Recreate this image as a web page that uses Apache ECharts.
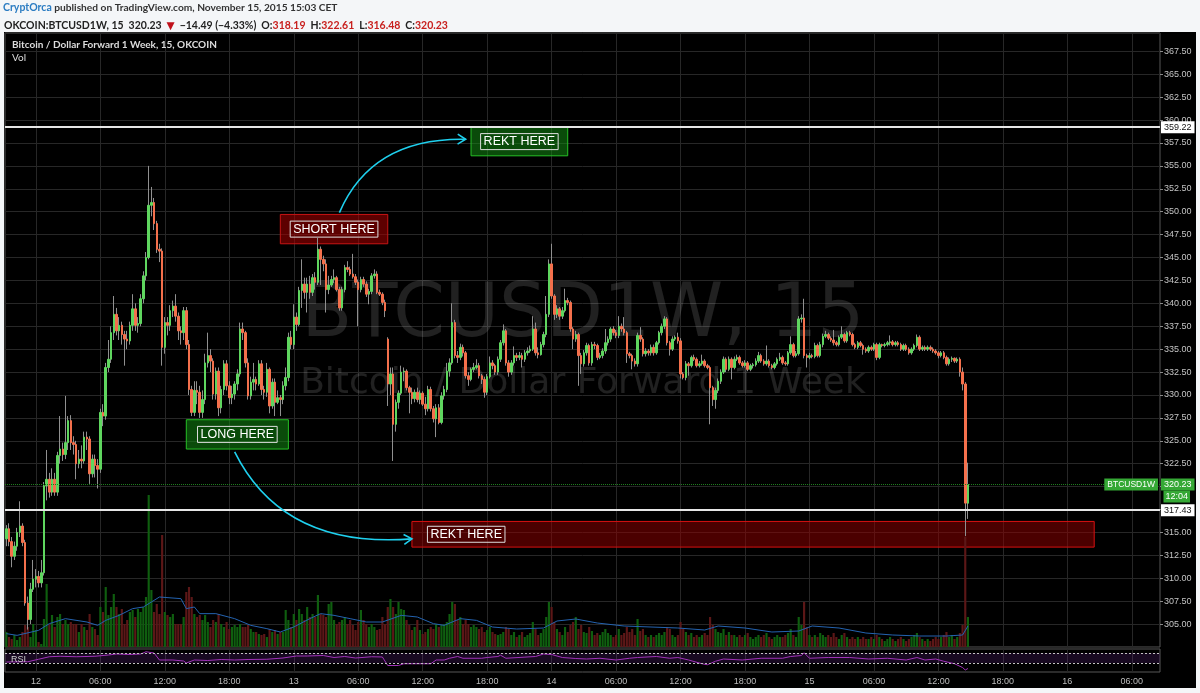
<!DOCTYPE html>
<html>
<head>
<meta charset="utf-8">
<title>BTCUSD1W, 15</title>
<script src="https://cdn.jsdelivr.net/npm/echarts@6/dist/echarts.min.js"></script>
<style>
html, body { margin: 0; padding: 0; background: #f4f6f8; }
#chart { width: 1200px; height: 693px; }
</style>
</head>
<body>
<div id="chart"></div>
<script>
// OKCOIN:BTCUSD1W 15 min candles, first candle 11 Nov 2015 21:15
const startTime = Date.UTC(2015, 10, 11, 21, 15);
const slotCount = 430;

const opens = [
  314.3,315.4,314.0,312.4,313.5,315.0,315.7,313.9,307.3,305.5,
  308.8,309.9,310.2,309.5,310.6,320.1,320.8,319.4,320.8,319.4,
  323.4,324.1,323.5,324.8,327.2,324.8,324.6,322.5,323.0,322.8,
  325.4,325.2,321.4,323.0,322.3,321.9,328.1,327.7,333.0,333.9,
  336.8,338.8,337.0,337.6,336.6,336.1,335.9,337.6,339.4,337.6,
  337.8,340.5,343.0,345.0,350.7,351.0,348.7,345.9,345.7,335.2,
  337.9,337.6,339.2,339.7,338.6,337.0,336.8,339.2,335.5,330.6,
  328.1,330.5,330.3,328.1,329.5,333.5,334.3,333.7,330.1,332.6,
  328.6,330.6,333.4,331.0,329.7,330.1,331.2,332.3,337.2,336.8,
  333.5,329.9,331.4,331.7,331.2,333.4,330.6,330.3,332.8,328.8,
  331.4,329.2,329.7,329.5,331.0,331.9,336.3,335.5,338.5,337.7,
  341.4,342.1,341.2,342.1,341.2,342.8,342.3,345.9,344.8,344.3,
  341.5,342.0,342.6,342.8,341.5,339.5,341.5,343.9,343.7,343.2,
  342.9,342.3,341.5,342.6,342.1,341.0,341.3,343.0,343.2,341.2,
  341.0,340.1,336.1,331.2,332.3,326.8,329.2,330.2,332.5,332.6,
  330.8,330.3,329.6,330.3,329.5,330.2,329.0,328.5,330.6,328.5,
  327.4,328.6,327.0,329.9,330.6,332.6,333.5,337.9,334.3,334.1,
  335.2,334.6,332.1,331.7,332.8,333.0,333.2,332.1,331.7,330.3,
  332.0,333.5,333.2,332.5,333.9,335.7,337.0,333.5,332.5,333.5,
  334.3,334.1,334.3,333.9,334.6,334.8,335.0,337.2,334.6,334.4,
  335.5,336.6,338.8,344.3,340.8,338.8,339.4,338.6,339.2,340.3,
  340.1,337.2,336.1,336.6,334.3,333.4,334.6,335.4,333.5,335.5,
  335.4,334.1,334.3,334.8,335.7,336.1,337.2,336.8,336.5,337.5,
  337.2,336.8,334.5,334.3,333.7,333.4,336.5,336.1,334.5,334.8,
  334.6,335.2,334.6,335.7,336.8,337.5,338.3,335.7,335.0,336.1,
  336.3,335.9,332.3,331.9,333.4,333.2,334.1,333.9,333.2,333.4,
  333.7,333.2,333.0,330.8,329.5,330.5,331.5,332.5,333.9,332.8,
  333.9,333.0,333.9,334.1,333.5,333.2,333.5,332.8,333.2,333.3,
  333.7,334.3,333.7,333.4,333.7,333.2,333.0,333.4,333.9,334.1,
  333.5,333.4,334.6,335.5,334.3,334.5,338.3,338.4,334.3,334.1,
  334.3,334.2,335.4,334.3,335.5,336.4,336.6,336.2,336.0,335.7,
  335.5,336.3,336.6,335.9,336.8,336.6,335.5,335.2,335.7,335.4,
  335.0,334.8,335.2,335.0,335.5,334.1,335.5,335.4,335.5,335.7,
  335.8,335.5,335.7,335.5,335.0,335.4,335.0,334.6,335.0,335.4,
  336.3,335.0,335.2,335.0,335.2,335.0,334.8,334.6,334.3,334.6,
  334.1,333.4,333.9,334.0,333.7,333.9,332.5,331.2,318.19
];
const highs = [
  315.8,316.0,314.5,314.0,315.5,318.4,316.0,314.2,308.0,309.5,
  312.0,311.0,310.8,312.0,320.5,324.0,321.5,322.0,321.5,323.8,
  327.7,324.8,329.9,327.7,327.8,325.5,325.0,324.0,324.5,326.0,
  326.0,325.5,323.5,323.5,323.0,328.5,329.0,333.5,336.0,337.5,
  340.8,339.5,338.5,338.0,337.0,337.0,338.0,341.0,340.0,338.5,
  341.0,343.5,345.6,355.0,352.7,351.5,349.0,346.5,346.0,338.5,
  338.5,339.8,340.3,341.0,339.0,337.5,339.6,339.6,336.0,331.0,
  331.5,331.5,331.0,330.5,334.5,336.8,335.0,334.0,333.0,333.0,
  331.0,333.8,333.8,331.5,331.0,331.5,332.8,337.9,337.9,337.0,
  334.0,332.0,333.5,332.0,333.8,333.8,331.0,333.5,333.0,331.8,
  331.8,330.5,330.0,331.5,333.0,336.8,337.0,339.9,339.0,341.8,
  344.8,342.8,342.8,343.0,343.2,343.4,347.2,346.2,345.2,344.8,
  343.0,343.0,343.7,343.0,341.8,341.8,344.2,344.6,344.0,345.4,
  343.2,342.6,342.9,342.9,342.4,341.6,343.3,343.7,343.5,341.5,
  341.2,340.4,336.3,333.0,333.0,329.5,330.5,333.2,333.0,332.8,
  331.0,330.8,330.6,330.8,330.5,330.4,329.8,331.0,330.9,328.8,
  329.0,329.0,330.3,331.0,333.5,334.0,340.0,338.2,334.8,335.6,
  335.5,334.8,332.5,333.0,333.5,333.9,333.5,332.3,332.0,332.3,
  334.2,333.8,333.4,334.2,336.0,337.7,337.2,333.8,333.8,335.3,
  334.6,334.7,334.6,334.9,335.2,335.4,338.6,337.9,335.2,335.8,
  336.9,340.8,344.8,346.5,341.0,339.8,339.6,339.6,341.6,340.6,
  340.3,337.4,337.0,336.8,334.6,334.9,335.7,335.6,335.8,335.8,
  335.6,334.6,335.1,337.2,336.4,337.4,337.5,337.1,338.6,337.8,
  338.5,337.0,334.7,334.5,334.0,336.8,337.4,336.3,335.1,335.0,
  335.5,335.5,335.9,337.0,337.8,338.6,338.5,335.9,336.4,336.5,
  336.8,336.2,332.5,333.7,333.6,334.3,334.4,334.1,333.7,334.4,
  333.9,333.4,333.2,331.0,330.8,331.8,332.8,334.2,334.1,334.2,
  334.1,334.2,334.4,334.3,333.7,333.8,333.7,333.4,333.5,334.0,
  334.7,334.5,333.9,335.4,333.9,333.4,333.6,334.1,334.6,334.3,
  333.7,334.8,336.4,335.7,334.8,338.6,338.8,340.5,334.5,334.6,
  334.5,335.7,335.6,335.8,336.7,337.0,336.8,336.4,337.1,335.9,
  336.5,337.5,336.8,337.0,337.0,336.8,335.7,335.9,335.9,335.6,
  335.2,335.4,335.4,335.7,335.7,335.7,335.6,335.7,335.9,336.5,
  336.0,335.9,335.9,335.7,335.6,335.6,335.2,335.2,335.6,336.6,
  336.5,335.4,335.4,335.4,335.4,335.2,335.0,334.8,334.8,334.8,
  334.3,334.1,334.2,334.1,334.1,334.1,333.0,331.4,322.61
];
const lows = [
  313.5,313.5,311.2,312.0,313.0,314.5,313.5,307.0,304.4,305.0,
  308.5,309.0,309.0,309.0,310.3,318.5,318.8,319.0,319.0,319.0,
  322.5,322.8,323.0,324.0,324.0,323.5,320.8,322.0,322.0,322.5,
  324.0,320.3,321.0,321.0,319.8,321.5,326.6,327.3,332.5,333.5,
  336.0,336.5,336.0,335.5,333.2,335.0,335.5,337.0,337.0,336.8,
  337.5,340.0,342.5,344.8,349.5,348.0,345.5,344.5,333.2,334.5,
  336.5,337.0,338.5,338.0,336.0,335.5,336.0,335.0,330.0,327.7,
  327.7,329.0,327.5,327.5,329.0,333.0,332.5,329.5,329.5,327.7,
  328.0,330.0,330.5,329.0,329.0,329.5,330.5,332.0,336.0,333.0,
  329.5,329.5,330.5,330.5,331.0,330.0,329.5,329.8,328.0,328.5,
  327.7,329.0,327.7,329.0,330.5,331.5,335.0,335.0,337.0,337.5,
  339.5,340.5,339.0,340.5,340.8,341.5,342.0,342.0,343.5,339.0,
  341.0,341.8,342.2,341.3,339.2,339.2,341.2,343.4,343.0,342.7,
  342.0,337.5,341.2,341.8,340.7,339.9,341.0,342.7,341.0,340.8,
  339.8,338.5,328.8,330.0,322.8,326.0,328.5,330.0,331.5,330.5,
  328.0,329.0,329.2,329.2,329.0,328.8,327.8,328.2,328.2,327.0,
  325.4,326.8,326.8,329.5,330.3,332.0,333.3,334.0,333.5,333.8,
  334.2,331.8,331.0,331.5,332.5,332.8,331.8,331.2,329.7,330.0,
  331.8,332.8,332.2,332.2,333.6,335.4,333.2,332.0,332.2,333.2,
  333.7,333.8,333.0,333.6,334.3,334.6,334.8,334.3,334.0,334.3,
  335.2,336.3,338.5,340.5,338.2,338.4,338.2,338.3,339.0,339.8,
  336.9,335.0,335.8,331.0,332.3,333.1,334.3,333.2,333.2,335.0,
  333.8,333.9,334.0,334.5,335.4,335.8,336.5,336.2,336.2,336.9,
  336.5,333.5,334.0,332.8,333.1,333.1,335.8,334.2,334.2,334.3,
  334.3,334.3,334.4,335.5,336.5,337.2,335.4,334.3,334.8,335.9,
  335.6,331.8,331.7,331.6,332.1,333.0,333.7,333.0,333.0,333.2,
  333.0,332.8,326.8,328.8,328.5,330.2,331.2,332.3,332.5,332.6,
  331.7,332.8,333.7,333.3,333.0,333.0,332.6,332.6,332.9,333.1,
  333.5,333.5,333.2,333.2,333.0,332.8,332.8,333.2,333.7,333.3,
  333.2,333.2,334.4,334.1,334.1,334.3,337.9,334.0,333.0,333.9,
  334.0,334.0,334.1,334.1,335.2,336.2,336.0,335.8,335.4,335.3,
  335.3,336.1,335.7,335.7,336.4,335.3,335.0,335.0,335.2,334.4,
  334.6,334.6,334.8,334.8,333.8,333.9,335.2,335.2,335.3,335.4,
  335.3,335.3,335.3,334.8,334.8,334.8,334.4,334.4,334.8,335.2,
  334.8,334.8,334.8,334.8,334.8,334.6,334.4,334.0,334.1,333.9,
  333.2,333.2,333.6,333.5,333.5,332.0,330.5,314.6,316.48
];
const closes = [
  315.4,314.0,312.4,313.5,315.0,315.7,313.9,307.3,305.5,308.8,
  309.9,310.2,309.5,310.6,320.1,320.8,319.4,320.8,319.4,323.4,
  324.1,323.5,324.8,327.2,324.8,324.6,322.5,323.0,322.8,325.4,
  325.2,321.4,323.0,322.3,321.9,328.1,327.7,333.0,333.9,336.8,
  338.8,337.0,337.6,336.6,336.1,335.9,337.6,339.4,337.6,337.8,
  340.5,343.0,345.0,350.7,351.0,348.7,345.9,345.7,335.2,337.9,
  337.6,339.2,339.7,338.6,337.0,336.8,339.2,335.5,330.6,328.1,
  330.5,330.3,328.1,329.5,333.5,334.3,333.7,330.1,332.6,328.6,
  330.6,333.4,331.0,329.7,330.1,331.2,332.3,337.2,336.8,333.5,
  329.9,331.4,331.7,331.2,333.4,330.6,330.3,332.8,328.8,331.4,
  329.2,329.7,329.5,331.0,331.9,336.3,335.5,338.5,337.7,341.4,
  342.1,341.2,342.1,341.2,342.8,342.3,345.9,344.8,344.3,341.5,
  342.0,342.6,342.8,341.5,339.5,341.5,343.9,343.7,343.2,342.9,
  342.3,341.5,342.6,342.1,341.0,341.3,343.0,343.2,341.2,341.0,
  340.1,339.2,331.2,332.3,326.8,329.2,330.2,332.5,332.6,330.8,
  330.3,329.6,330.3,329.5,330.2,329.0,328.5,330.6,328.5,327.4,
  328.6,327.0,329.9,330.6,332.6,333.5,337.9,334.3,334.1,335.2,
  334.6,332.1,331.7,332.8,333.0,333.2,332.1,331.7,330.3,332.0,
  333.5,333.2,332.5,333.9,335.7,337.0,333.5,332.5,333.5,334.3,
  334.1,334.3,333.9,334.6,334.8,335.0,337.2,334.6,334.4,335.5,
  336.6,338.8,344.3,340.8,338.8,339.4,338.6,339.2,340.3,340.1,
  337.2,336.1,336.6,334.3,333.4,334.6,335.4,333.5,335.5,335.4,
  334.1,334.3,334.8,335.7,336.1,337.2,336.8,336.5,337.5,337.2,
  336.8,334.5,334.3,333.7,333.4,336.5,336.1,334.5,334.8,334.6,
  335.2,334.6,335.7,336.8,337.5,338.3,335.7,335.0,336.1,336.3,
  335.9,332.3,331.9,333.4,333.2,334.1,333.9,333.2,333.4,333.7,
  333.2,333.0,330.8,329.5,330.5,331.5,332.5,333.9,332.8,333.9,
  333.0,333.9,334.1,333.5,333.2,333.5,332.8,333.2,333.3,333.7,
  334.3,333.7,333.4,333.7,333.2,333.0,333.4,333.9,334.1,333.5,
  333.4,334.6,335.5,334.3,334.5,338.3,338.4,334.3,334.1,334.3,
  334.2,335.4,334.3,335.5,336.4,336.6,336.2,336.0,335.7,335.5,
  336.3,336.6,335.9,336.8,336.6,335.5,335.2,335.7,335.4,335.0,
  334.8,335.2,335.0,335.5,334.1,335.5,335.4,335.5,335.7,335.8,
  335.5,335.7,335.5,335.0,335.4,335.0,334.6,335.0,335.4,336.3,
  335.0,335.2,335.0,335.2,335.0,334.8,334.6,334.3,334.6,334.1,
  333.4,333.9,334.0,333.7,333.9,332.5,331.2,318.2,320.23
];
const volumes = [
  300,200,160,240,140,200,300,440,400,200,
  460,340,100,60,560,1260,460,640,400,600,
  660,460,540,460,500,460,460,300,460,400,
  340,660,400,360,240,800,700,1200,640,800,
  1060,800,660,760,460,540,700,740,600,760,
  700,800,1000,3040,1140,700,860,660,2240,700,
  640,600,660,460,460,460,600,1100,1200,1000,
  660,600,640,540,640,500,400,540,500,660,
  460,400,500,360,400,440,400,460,400,400,
  440,360,300,300,260,240,260,200,360,300,
  340,260,300,300,740,540,400,660,540,760,
  660,540,800,600,660,600,1040,660,640,600,
  860,900,540,460,500,540,600,460,540,440,
  340,500,740,540,460,400,460,400,340,360,
  600,460,800,960,800,660,900,760,740,540,
  440,340,400,540,340,260,300,360,400,360,
  460,400,440,460,500,660,900,860,540,600,
  460,540,460,400,440,400,360,400,300,340,
  400,300,260,240,260,300,400,360,240,300,
  200,240,300,200,240,280,500,360,240,280,
  360,600,900,800,500,360,300,240,400,300,
  440,500,600,360,440,300,280,400,320,240,
  280,240,300,360,280,240,200,240,360,240,
  280,400,300,360,240,560,320,360,240,200,
  240,200,240,280,240,300,400,360,240,200,
  240,500,360,300,240,280,200,240,200,240,
  280,240,600,440,360,300,280,360,240,300,
  240,240,200,240,200,240,280,200,160,200,
  240,200,240,280,200,160,200,240,200,200,
  240,280,360,240,200,600,440,900,400,240,
  200,240,200,280,240,200,240,200,280,200,
  160,240,280,200,160,200,160,200,160,200,
  160,160,200,160,240,200,160,120,160,200,
  160,120,160,200,160,120,160,200,240,280,
  200,160,120,160,120,160,200,160,200,240,
  300,200,240,160,200,280,440,2200,600
];
// volume moving average, read at a few candles
const volMaIdx = [0,4,12,16,22,30,34,37,42,47,51,54,57,65,67,70,72,78,85,91,97,102,107,113,117,122,128,134,140,147,153,159,163,169,175,181,190,200,205,212,220,230,240,250,260,265,275,285,295,300,310,320,330,340,350,356,358];
const volMaVal = [267,233,333,467,567,500,433,533,633,767,800,900,1000,967,767,800,667,667,567,433,367,300,400,567,667,633,567,500,500,633,600,467,433,567,533,400,360,380,520,560,480,420,400,380,340,420,380,300,320,420,380,280,240,220,220,240,420];
// RSI, read at a few candles
const rsiIdx = [0,8,12,16,20,26,33,38,41,46,50,52,55,57,62,66,67,70,75,80,85,90,97,103,108,112,118,122,126,130,136,140,142,146,148,158,160,163,165,168,170,177,179,183,184,186,197,200,203,207,212,216,221,227,232,235,242,247,250,254,259,261,264,267,274,281,289,292,296,297,299,306,314,321,328,335,339,342,346,349,353,356,357,358];
const rsiVal = [34,35,45,55,57,55,57,62,66,64,66,75,70,42,42,38,30,42,40,44,42,44,45,50,58,58,60,52,56,50,55,54,20,20,27,27,42,42,49,56,49,49,52,56,61,49,56,66,64,52,48,46,49,42,49,52,56,49,52,42,27,23,37,46,42,49,49,56,60,71,49,52,52,46,49,42,52,42,46,37,27,12,2,8];

const rektLevel = 359.22;
const stopLevel = 317.43;
const lastPrice = 320.23;

// drawings: [from candle, top price] -> [to candle, bottom price]
const boxes = [
  { text: 'SHORT HERE', from: 102, top: 349.7, to: 142, bottom: 346.5, fill: 'rgba(170,0,0,0.55)', edge: '#c81414', pos: 'inside' },
  { text: 'LONG HERE', from: 67, top: 327.3, to: 105, bottom: 324.1, fill: 'rgba(20,150,20,0.5)', edge: '#26c026', pos: 'inside' },
  { text: 'REKT HERE', from: 173, top: 359.2, to: 209, bottom: 356.1, fill: 'rgba(20,150,20,0.5)', edge: '#26c026', pos: 'inside' },
  { text: 'REKT HERE', from: 151, top: 316.2, to: 405, bottom: 313.4, fill: 'rgba(150,0,0,0.5)', edge: '#d81010', pos: 'insideLeft' }
];
const arrows = [
  { from: [124, 349.9], ctrl: [136, 358.1], to: [171, 357.9] },
  { from: [85, 323.8], ctrl: [103, 313.2], to: [151, 314.3] }
];

const times = [];
for (let i = 0; i < slotCount; i++) {
  times.push(new Date(startTime + i * 900000).toISOString().slice(5, 16));
}
const isGridTick = (index, value) => value.slice(9, 11) === '00' && (+value.slice(6, 8)) % 6 === 0;
const fmtTime = (value) => value.slice(6, 8) === '00' ? String(+value.slice(3, 5)) : value.slice(6, 11);

const upColor = '#5fd65f';
const downColor = '#f4704c';
const wickColor = '#909090';
const gridColor = '#272727';

const wickData = closes.map((c, i) => [lows[i], lows[i], lows[i], highs[i]]);
const bodyData = closes.map((c, i) => [opens[i], c, Math.min(opens[i], c), Math.max(opens[i], c)]);
const volData = volumes.map((v, i) => ({
  value: v,
  itemStyle: { color: closes[i] >= opens[i] ? '#0f5e0f' : '#5c1717' }
}));
const volMaData = volMaIdx.map((x, k) => [x, volMaVal[k]]);
const rsiData = rsiIdx.map((x, k) => [x, rsiVal[k]]);

const priceTag = (bg, fg) => ({
  position: 'end', distance: 1, backgroundColor: bg, color: fg,
  padding: [2, 3, 1, 3], fontSize: 9, fontFamily: 'Liberation Sans'
});

const chart = echarts.init(document.getElementById('chart'));
const option = {
  backgroundColor: '#f4f6f8',
  animation: false,
  textStyle: { fontFamily: 'Liberation Sans' },
  title: [
    {
      left: 3, top: 2, padding: 0,
      text: '{a|CryptOrca}{b| published on TradingView.com, November 15, 2015 15:03 CET}',
      textStyle: { rich: {
        a: { color: '#2b7cc2', fontSize: 10.5, fontWeight: 'bold', fontFamily: 'Lato' },
        b: { color: '#333', fontSize: 10.2, fontFamily: 'Lato' }
      } }
    },
    {
      left: 4, top: 17, padding: 0,
      text: '{k|OKCOIN:BTCUSD1W, 15} {n|320.23} {r|▼} {n|−14.49 (−4.33%)} {k|O:}{v|318.19} {k|H:}{v|322.61} {k|L:}{v|316.48} {k|C:}{v|320.23}',
      textStyle: { rich: {
        k: { color: '#222', fontSize: 10.5, fontWeight: 'bold', fontFamily: 'Lato' },
        n: { color: '#222', fontSize: 10.5, fontFamily: 'Lato' },
        r: { color: '#c0101a', fontSize: 10.5, fontFamily: 'DejaVu Sans' },
        v: { color: '#c8201e', fontSize: 10.5, fontFamily: 'Lato' }
      } }
    }
  ],
  graphic: [
    { type: 'rect', z: -10, silent: true, shape: { x: 4, y: 32, width: 1192, height: 656 }, style: { fill: '#000' } },
    { type: 'text', z: 1, silent: true, x: 583, y: 317, style: { text: 'BTCUSD1W, 15', fill: 'rgba(255,255,255,0.13)', font: '74px "DejaVu Sans"', align: 'center', verticalAlign: 'middle' } },
    { type: 'text', z: 1, silent: true, x: 583, y: 384, style: { text: 'Bitcoin / Dollar Forward 1 Week', fill: 'rgba(255,255,255,0.13)', font: '36px "DejaVu Sans"', align: 'center', verticalAlign: 'middle' } },
    { type: 'text', z: 5, silent: true, x: 12, y: 45, style: { text: 'Bitcoin / Dollar Forward 1 Week, 15, OKCOIN', fill: '#dcdcdc', font: 'bold 10px Lato', verticalAlign: 'middle' } },
    { type: 'text', z: 5, silent: true, x: 12, y: 58, style: { text: 'Vol', fill: '#dcdcdc', font: '10px Lato', verticalAlign: 'middle' } },
    { type: 'text', z: 5, silent: true, x: 11, y: 660, style: { text: 'RSI', fill: '#cfcfcf', font: '9px "Liberation Sans"', verticalAlign: 'middle' } }
  ],
  grid: [
    { left: 5, top: 33, width: 1155, height: 614, show: true, borderColor: '#565656', borderWidth: 1, backgroundColor: 'transparent' },
    { left: 5, top: 649, width: 1155, height: 23, show: true, borderColor: '#565656', borderWidth: 1, backgroundColor: 'transparent' }
  ],
  xAxis: [
    {
      type: 'category', gridIndex: 0, data: times, boundaryGap: true,
      axisLine: { show: false }, axisTick: { show: false }, axisLabel: { show: false },
      splitLine: { show: true, interval: isGridTick, alignWithLabel: true, lineStyle: { color: gridColor } }
    },
    {
      type: 'category', gridIndex: 1, data: times, boundaryGap: true,
      axisLine: { show: false }, axisTick: { show: false },
      axisLabel: { show: true, interval: isGridTick, formatter: fmtTime, color: '#bdbdbd', fontSize: 9, margin: 5 },
      splitLine: { show: true, interval: isGridTick, alignWithLabel: true, lineStyle: { color: gridColor } }
    }
  ],
  yAxis: [
    {
      type: 'value', gridIndex: 0, position: 'right', min: 302.5, max: 369.5, interval: 2.5,
      axisLine: { show: false },
      axisTick: { show: true, length: 3, lineStyle: { color: '#8a8a8a' } },
      axisLabel: { formatter: (v) => v.toFixed(2), color: '#c4c4c4', fontSize: 9, margin: 4, showMinLabel: false, showMaxLabel: false },
      splitLine: { lineStyle: { color: gridColor } }
    },
    { type: 'value', gridIndex: 0, min: 0, max: 12280, show: false },
    { type: 'value', gridIndex: 1, min: -6, max: 86, show: false }
  ],
  series: [
    {
      name: 'Vol', type: 'bar', xAxisIndex: 0, yAxisIndex: 1, data: volData,
      barWidth: '80%', z: 1, silent: true
    },
    {
      name: 'Vol MA', type: 'line', xAxisIndex: 0, yAxisIndex: 1, data: volMaData,
      symbol: 'none', silent: true, lineStyle: { color: '#2463b0', width: 1 }, z: 1
    },
    {
      name: 'wicks', type: 'candlestick', xAxisIndex: 0, yAxisIndex: 0, data: wickData,
      barWidth: 1, z: 3, silent: true,
      itemStyle: { color: wickColor, color0: wickColor, borderColor: wickColor, borderColor0: wickColor, borderColorDoji: wickColor, borderWidth: 1 },
      markArea: {
        silent: true,
        data: boxes.map((b) => [
          {
            coord: [b.from, b.top],
            itemStyle: { color: b.fill, borderColor: b.edge, borderWidth: 1 },
            label: {
              show: true, position: b.pos, distance: 16, formatter: b.text,
              color: '#fff', fontSize: 12.5, fontFamily: 'Liberation Sans',
              borderColor: '#dedede', borderWidth: 1, padding: [2, 3, 1, 3]
            }
          },
          { coord: [b.to, b.bottom] }
        ])
      }
    },
    {
      name: 'BTCUSD1W', type: 'candlestick', xAxisIndex: 0, yAxisIndex: 0, data: bodyData,
      barWidth: 2, z: 4, silent: true,
      itemStyle: { color: upColor, color0: downColor, borderColor: upColor, borderColor0: downColor, borderColorDoji: upColor, borderWidth: 1 },
      markLine: {
        symbol: 'none', silent: true,
        data: [
          { yAxis: rektLevel, lineStyle: { color: '#e6e6e6', width: 2, type: 'solid' }, label: priceTag('#ffffff', '#111') },
          { yAxis: stopLevel, lineStyle: { color: '#e6e6e6', width: 2, type: 'solid' }, label: priceTag('#ffffff', '#111') },
          { yAxis: lastPrice, lineStyle: { color: '#1d7d1d', width: 1, type: 'dotted' }, label: priceTag('#35a835', '#fff') },
          {
            yAxis: lastPrice, lineStyle: { color: '#1d7d1d', width: 1, type: 'dotted' },
            label: { position: 'insideEnd', distance: 2, formatter: 'BTCUSD1W', backgroundColor: '#35a835', color: '#fff', padding: [2, 3, 1, 3], fontSize: 8.5 }
          }
        ],
        label: { formatter: (p) => p.value.toFixed(2) }
      }
    },
    {
      name: 'RSI', type: 'line', xAxisIndex: 1, yAxisIndex: 2, data: rsiData,
      symbol: 'none', silent: true, lineStyle: { color: '#a032b8', width: 1 }, z: 3,
      markLine: {
        symbol: 'none', silent: true, label: { show: false },
        lineStyle: { color: '#c4c4c4', width: 1, type: [2, 2] },
        data: [{ yAxis: 70 }, { yAxis: 30 }]
      },
      markArea: {
        silent: true, itemStyle: { color: 'rgba(110,40,150,0.22)' },
        data: [[{ yAxis: 70 }, { yAxis: 30 }]]
      }
    }
  ]
};
chart.setOption(option);

// drawings anchored to candle / price
const toPx = (i, p) => chart.convertToPixel({ xAxisIndex: 0, yAxisIndex: 0 }, [i, p]);
const drawings = [];
arrows.forEach((a) => {
  const s = toPx(a.from[0], a.from[1]);
  const c = toPx(a.ctrl[0], a.ctrl[1]);
  const e = toPx(a.to[0], a.to[1]);
  const dx = e[0] - c[0], dy = e[1] - c[1];
  const len = Math.hypot(dx, dy);
  const ux = dx / len, uy = dy / len;
  drawings.push({
    type: 'bezierCurve', z: 6, silent: true,
    shape: { x1: s[0], y1: s[1], x2: e[0], y2: e[1], cpx1: c[0], cpy1: c[1] },
    style: { stroke: '#1fd0ee', lineWidth: 1.6, fill: null }
  });
  drawings.push({
    type: 'polyline', z: 6, silent: true,
    shape: { points: [
      [e[0] - 8 * ux - 5 * uy, e[1] - 8 * uy + 5 * ux],
      [e[0], e[1]],
      [e[0] - 8 * ux + 5 * uy, e[1] - 8 * uy - 5 * ux]
    ] },
    style: { stroke: '#1fd0ee', lineWidth: 1.6, fill: null }
  });
});
const tagY = toPx(0, lastPrice)[1];
drawings.push({
  type: 'text', z: 7, silent: true, x: 1190, y: tagY + 12,
  style: { text: '12:04', fill: '#fff', backgroundColor: '#35a835', padding: [2, 2, 1, 2], font: '9px "Liberation Sans"', align: 'right', verticalAlign: 'middle' }
});
chart.setOption({ graphic: option.graphic.concat(drawings) });
</script>
</body>
</html>
